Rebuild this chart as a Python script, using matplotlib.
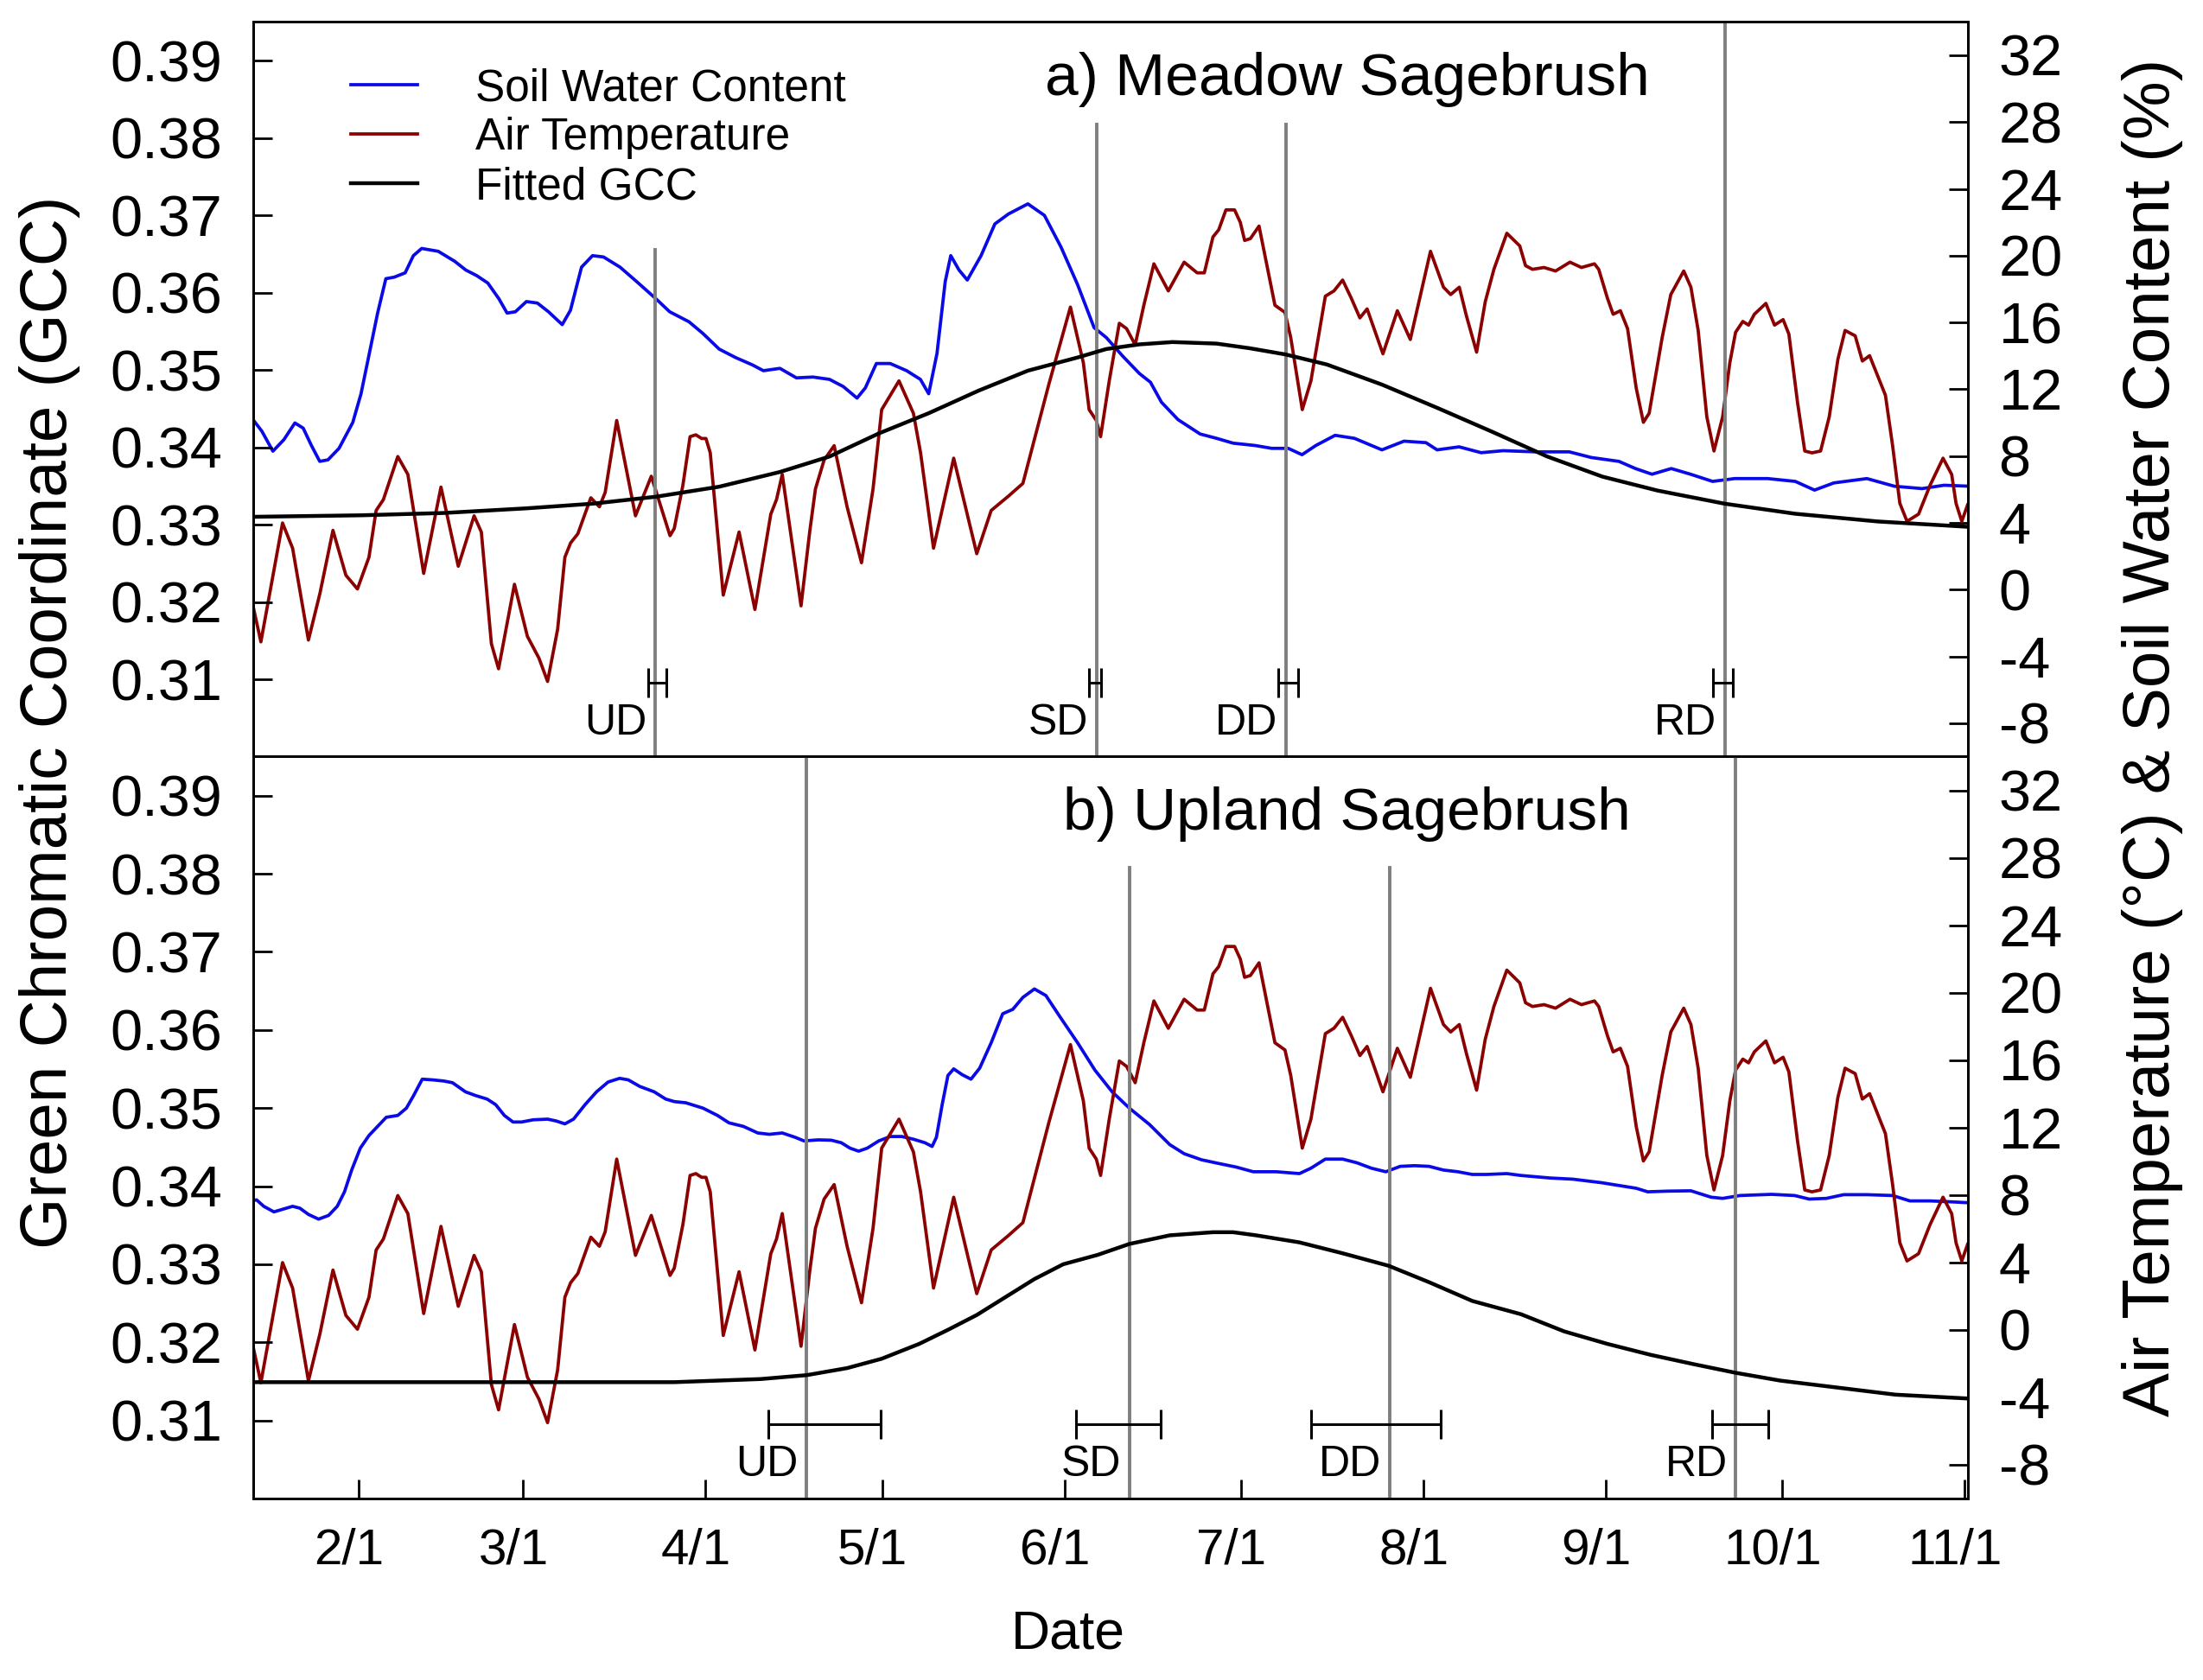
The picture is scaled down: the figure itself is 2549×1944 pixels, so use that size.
import matplotlib.pyplot as plt
from matplotlib.transforms import ScaledTranslation

plt.rcParams['font.family'] = ['Liberation Sans', 'DejaVu Sans']
plt.rcParams['axes.unicode_minus'] = False

# day of year (2015-like, no leap day) and smoothed air temperature (deg C), same for both sites
temp_doy = [13.95, 15.42, 19.10, 20.81, 23.50, 25.46, 27.67, 29.87, 31.83, 33.79, 35.01, 36.24,
            38.69, 40.40, 43.09, 46.03, 48.97, 51.66, 52.89, 54.60, 55.82, 58.52, 60.72, 62.68,
            64.15, 65.86, 67.09, 68.07, 69.29, 71.50, 72.96, 73.94, 75.90, 79.09, 81.78, 84.96,
            85.68, 87.15, 88.37, 89.35, 90.33, 91.07, 91.80, 94.01, 96.70, 99.39, 102.09, 103.06,
            104.04, 107.23, 108.70, 109.68, 111.15, 112.86, 115.06, 117.51, 119.47, 120.94, 123.88,
            126.33, 127.55, 129.75, 133.18, 137.10, 139.55, 142.49, 144.94, 149.34, 153.02, 155.22,
            156.20, 157.42, 158.15, 159.62, 161.33, 162.56, 164.03, 165.50, 167.21, 169.66, 172.35,
            174.56, 175.78, 177.25, 178.23, 179.45, 180.92, 181.90, 182.63, 183.61, 185.08, 186.55,
            187.78, 189.49, 190.47, 192.43, 193.90, 196.35, 197.82, 199.29, 200.75, 202.22, 203.45,
            206.14, 208.59, 210.79, 214.22, 216.43, 217.65, 219.12, 220.34, 222.06, 223.53, 225.00,
            227.20, 229.40, 230.38, 231.56, 233.52, 235.48, 237.93, 239.88, 242.09, 242.82, 244.29,
            245.27, 246.50, 247.72, 249.19, 250.41, 251.39, 253.60, 255.07, 257.27, 258.49, 259.72,
            261.19, 262.41, 263.88, 265.10, 266.08, 267.31, 268.29, 269.27, 271.23, 272.70, 274.16,
            275.14, 276.61, 277.84, 279.06, 280.53, 282.00, 283.47, 284.69, 286.41, 287.63, 288.86,
            290.32, 291.55, 292.77, 294.00, 295.22, 297.18, 299.14, 301.34, 302.81, 303.55, 304.53,
            305.51]
temp_c = [-0.76, -3.13, 3.99, 2.48, -3.02, -0.22, 3.55, 0.86, 0.04, 1.94, 4.74, 5.39,
          7.97, 6.90, 0.97, 6.14, 1.40, 4.42, 3.45, -3.24, -4.74, 0.32, -2.80, -4.10,
          -5.50, -2.37, 1.94, 2.80, 3.34, 5.50, 4.96, 5.82, 10.13, 4.42, 6.79, 3.23,
          3.66, 6.25, 9.16, 9.27, 9.05, 9.05, 8.19, -0.33, 3.45, -1.19, 4.52, 5.39,
          6.90, -0.97, 3.45, 6.03, 7.76, 8.62, 4.96, 1.61, 6.03, 10.78, 12.50,
          10.56, 8.19, 2.48, 7.87, 2.15, 4.74, 5.60, 6.36, 12.28, 16.92, 13.58,
          10.78, 10.13, 9.16, 12.50, 15.95, 15.63, 14.66, 17.03, 19.51, 17.89, 19.61,
          18.97, 18.97, 21.12, 21.55, 22.74, 22.74, 21.99, 20.91, 21.02, 21.77, 19.18,
          17.03, 16.60, 15.09, 10.78, 12.50, 17.57, 17.89, 18.54, 17.46, 16.27, 16.81,
          14.12, 16.70, 14.98, 20.26, 18.11, 17.67, 18.11, 16.38, 14.22, 17.24, 19.18,
          21.34, 20.58, 19.40, 19.18, 19.29, 19.08, 19.61, 19.29, 19.51, 19.18, 17.46,
          16.49, 16.70, 15.63, 12.07, 10.02, 10.56, 15.09, 17.67, 19.08, 18.11, 15.52,
          10.35, 8.30, 10.35, 13.58, 15.41, 16.06, 15.84, 16.49, 17.14, 15.84, 16.17,
          15.30, 11.21, 8.30, 8.19, 8.30, 10.35, 13.79, 15.52, 15.20, 13.69, 14.01,
          12.72, 11.64, 8.62, 5.17, 4.09, 4.52, 6.25, 7.87, 6.90, 5.17, 4.09,
          5.07]

# a) meadow sagebrush: soil water content (%)
swc_a_doy = [13.71, 15.58, 17.46, 19.33, 21.20, 22.61, 24.01, 25.42, 26.82, 28.70, 31.04, 32.44,
             33.85, 35.26, 36.66, 38.07, 39.94, 41.34, 42.75, 45.56, 48.37, 50.24, 52.12, 53.99,
             55.87, 57.27, 58.68, 60.55, 62.42, 64.30, 66.64, 68.04, 69.92, 71.79, 73.66, 76.47,
             79.28, 82.56, 84.90, 88.18, 90.52, 93.33, 96.15, 98.95, 100.83, 103.64, 106.45,
             109.26, 112.07, 114.41, 116.75, 118.16, 120.03, 122.38, 125.18, 127.52, 128.93,
             130.34, 131.74, 132.68, 134.08, 135.49, 137.83, 140.18, 142.51, 145.79, 148.60,
             151.41, 154.22, 157.04, 159.13, 161.94, 164.75, 166.62, 168.50, 171.31, 175.06,
             177.86, 180.68, 184.42, 187.23, 190.04, 192.39, 194.73, 198.01, 201.29, 205.97,
             209.72, 213.46, 215.34, 219.08, 222.83, 226.58, 232.20, 237.82, 241.57, 246.25,
             249.06, 251.87, 255.15, 258.43, 262.17, 265.92, 271.54, 276.23, 279.50, 282.78,
             288.40, 293.09, 297.77, 301.52, 306.02]
swc_a = [10.35, 9.49, 8.29, 8.98, 9.98, 9.67, 8.63, 7.68, 7.77, 8.46, 10.01, 11.73,
         14.14, 16.56, 18.62, 18.71, 18.97, 20.00, 20.43, 20.26, 19.66, 19.14, 18.80, 18.36,
         17.42, 16.56, 16.64, 17.25, 17.16, 16.64, 15.87, 16.73, 19.31, 20.00, 19.92, 19.31,
         18.45, 17.42, 16.64, 16.04, 15.35, 14.40, 13.89, 13.46, 13.11, 13.25, 12.68,
         12.73, 12.59, 12.16, 11.47, 12.08, 13.54, 13.54, 13.11, 12.59, 11.73,
         14.14, 18.45, 20.00, 19.14, 18.54, 20.00, 21.90, 22.50, 23.10, 22.41,
         20.52, 18.28, 15.69, 15.09, 13.97, 12.94, 12.42, 11.22, 10.18, 9.32,
         9.06, 8.77, 8.63, 8.46, 8.46, 8.08, 8.63, 9.24, 9.06, 8.37,
         8.89, 8.80, 8.37, 8.55, 8.20, 8.32, 8.25, 8.25, 7.91, 7.68,
         7.25, 6.91, 7.25, 6.91, 6.48, 6.65, 6.65, 6.48, 5.96, 6.39,
         6.65, 6.19, 6.05, 6.25, 6.19]

# b) upland sagebrush: soil water content (%)
swc_b_doy = [13.71, 14.69, 15.91, 17.63, 19.10, 20.81, 22.04, 23.50, 25.22, 26.93, 28.40, 29.63,
             30.85, 32.32, 33.79, 35.26, 36.73, 38.69, 40.15, 41.38, 42.85, 44.56, 46.52, 47.99,
             50.19, 51.91, 53.87, 55.33, 56.80, 58.27, 59.74, 61.70, 64.15, 65.62, 67.09, 68.56,
             70.52, 72.47, 74.43, 76.39, 77.86, 79.82, 82.27, 84.23, 85.70, 87.64, 90.58, 93.03,
             94.98, 97.43, 99.88, 101.84, 104.04, 106.25, 107.72, 110.17, 112.37, 114.08, 115.55,
             117.02, 118.49, 120.45, 122.41, 124.37, 126.33, 128.29, 129.51, 130.24, 131.22,
             132.20, 133.18, 134.65, 136.12, 137.59, 139.55, 141.51, 143.22, 144.94, 146.90,
             148.85, 151.30, 154.24, 157.18, 160.11, 163.05, 166.47, 169.90, 172.35, 175.29,
             178.23, 181.17, 184.10, 188.02, 191.94, 193.90, 196.35, 199.29, 201.73, 204.18,
             206.63, 209.08, 211.53, 213.98, 216.43, 218.88, 221.32, 223.77, 227.20, 229.60,
             234.50, 238.41, 243.31, 249.19, 251.15, 254.58, 258.49, 261.92, 263.88, 266.82,
             272.21, 276.12, 278.57, 281.51, 284.45, 288.37, 292.77, 295.71, 299.14, 303.06,
             305.75]
swc_b = [7.65, 7.71, 7.33, 7.00, 7.15, 7.33, 7.22, 6.85, 6.57, 6.79, 7.33, 8.19,
         9.48, 10.78, 11.53, 12.07, 12.61, 12.72, 13.15, 13.90, 14.87, 14.83, 14.76, 14.66,
         14.12, 13.90, 13.69, 13.36, 12.72, 12.33, 12.33, 12.46, 12.50, 12.39, 12.22, 12.50,
         13.36, 14.12, 14.70, 14.92, 14.83, 14.44, 14.12, 13.69, 13.54, 13.47, 13.15, 12.72,
         12.28, 12.07, 11.68, 11.60, 11.68, 11.42, 11.21, 11.27, 11.25, 11.10, 10.78,
         10.60, 10.78, 11.21, 11.47, 11.47, 11.31, 11.10, 10.88, 11.42, 13.36,
         15.09, 15.48, 15.13, 14.87, 15.52, 17.03, 18.75, 19.01, 19.72, 20.22,
         19.83, 18.54, 17.03, 15.41, 14.12, 13.15, 12.18, 10.99, 10.45, 10.09,
         9.87, 9.66, 9.38, 9.38, 9.27, 9.59, 10.13, 10.13, 9.91, 9.59,
         9.38, 9.70, 9.74, 9.70, 9.48, 9.38, 9.22, 9.22, 9.27, 9.16,
         9.01, 8.94, 8.73, 8.40, 8.19, 8.23, 8.25, 7.87, 7.80, 7.97,
         8.04, 7.97, 7.76, 7.80, 8.02, 8.02, 7.97, 7.65, 7.65, 7.59,
         7.54]

# fitted GCC curves
gcc_a_doy = [13.71, 32.45, 46.50, 60.55, 71.79, 82.56, 93.33, 103.64, 112.07, 120.50, 128.93,
             137.36, 145.79, 154.22, 159.13, 164.75, 170.37, 177.86, 183.49, 189.57, 196.60,
             205.97, 215.34, 224.71, 234.07, 243.44, 252.81, 264.23, 276.22, 290.28, 305.90]
gcc_a = [0.3310, 0.3312, 0.3315, 0.3321, 0.3327, 0.3336, 0.3349, 0.3368, 0.3388, 0.3418, 0.3444,
         0.3473, 0.3499, 0.3516, 0.3527, 0.3533, 0.3536, 0.3534, 0.3528, 0.3520, 0.3507,
         0.3481, 0.3451, 0.3420, 0.3388, 0.3362, 0.3344, 0.3327, 0.3314, 0.3304, 0.3297]
gcc_b_doy = [13.71, 50.00, 85.68, 100.37, 108.20, 115.06, 120.94, 127.31, 132.20, 137.10, 142.00,
             146.90, 151.80, 157.66, 163.05, 169.90, 177.25, 180.68, 184.60, 191.94, 199.29,
             207.12, 213.98, 221.32, 229.60, 236.95, 244.29, 251.64, 258.98, 266.08, 273.67,
             283.47, 293.26, 305.75]
gcc_b = [0.3149, 0.3149, 0.3149, 0.3153, 0.3158, 0.3167, 0.3179, 0.3198, 0.3216, 0.3235, 0.3258,
         0.3281, 0.3300, 0.3312, 0.3326, 0.3337, 0.3341, 0.3341, 0.3337, 0.3328, 0.3314,
         0.3298, 0.3277, 0.3253, 0.3236, 0.3214, 0.3198, 0.3184, 0.3172, 0.3161, 0.3151,
         0.3142, 0.3133, 0.3128]

# phenophase transition dates with their uncertainty range
phases = ['UD', 'SD', 'DD', 'RD']
phen_a = [82.5, 157.5, 189.6, 264.3]
phen_a_lo = [81.3, 156.2, 188.4, 262.2]
phen_a_hi = [84.3, 158.3, 191.7, 265.6]
phen_b = [108.2, 163.1, 207.3, 266.1]
phen_b_lo = [101.7, 153.9, 193.9, 262.1]
phen_b_hi = [120.8, 168.3, 215.9, 271.7]

month_doy = [32, 60, 91, 121, 152, 182, 213, 244, 274, 305]
month_labels = ['2/1', '3/1', '4/1', '5/1', '6/1', '7/1', '8/1', '9/1', '10/1', '11/1']
gcc_ticks = [0.31, 0.32, 0.33, 0.34, 0.35, 0.36, 0.37, 0.38, 0.39]
right_ticks = list(range(-8, 33, 4))

BLUE = '#0a0ae6'
RED = '#8b0000'
GREY = '#7f7f7f'


def draw_panel(ax, swc_doy, swc, gcc_doy, gcc, phen, lo, hi, tops, title, title_y):
    ax2 = ax.twinx()
    ax.set_zorder(ax2.get_zorder() + 1)
    ax.patch.set_visible(False)

    l1, = ax2.plot(swc_doy, swc, color=BLUE, lw=1.35)
    l2, = ax2.plot(temp_doy, temp_c, color=RED, lw=1.35)
    l3, = ax.plot(gcc_doy, gcc, color='black', lw=1.6, zorder=4)

    for name, d, a, b, top in zip(phases, phen, lo, hi, tops):
        ax.axvline(d, ymin=0, ymax=top, color=GREY, lw=1.4, zorder=1)
        ax.errorbar(d, 0.3095, xerr=[[d - a], [b - d]], fmt='none', ecolor='black',
                    elinewidth=1.1, capsize=6, capthick=1.1, zorder=5)
        ax.annotate(name, (d, 0.3043), xytext=(-3.5, 0), textcoords='offset points',
                    ha='right', va='center', fontsize=18)

    ax.set_xlim(14.1, 305.5)
    ax.set_ylim(0.30, 0.395)
    ax2.set_ylim(-10, 34)
    ax.set_yticks(gcc_ticks)
    ax.set_yticklabels(['%.2f' % v for v in gcc_ticks])
    ax2.set_yticks(right_ticks)
    ax.tick_params(axis='y', direction='in', length=8, width=1, labelsize=24, pad=13)
    ax2.tick_params(axis='y', direction='in', length=8, width=1, labelsize=24, pad=13)
    ax.text(0.638, title_y, title, transform=ax.transAxes, ha='center', va='center', fontsize=25)
    for sp in list(ax.spines.values()) + list(ax2.spines.values()):
        sp.set_linewidth(1.0)
    return l1, l2, l3


fig = plt.figure(figsize=(12.745, 9.72), dpi=200)
ax_a = fig.add_axes([0.1149, 0.54964, 0.7782, 0.43735])
ax_b = fig.add_axes([0.1149, 0.10802, 0.7782, 0.44162])

handles = draw_panel(ax_a, swc_a_doy, swc_a, gcc_a_doy, gcc_a, phen_a, phen_a_lo, phen_a_hi,
                     [0.69, 0.86, 0.86, 1.0], 'a) Meadow Sagebrush', 0.922)
draw_panel(ax_b, swc_b_doy, swc_b, gcc_b_doy, gcc_b, phen_b, phen_b_lo, phen_b_hi,
           [1.0, 0.85, 0.85, 1.0], 'b) Upland Sagebrush', 0.922)

ax_a.tick_params(axis='x', length=0, labelbottom=False)
ax_b.set_xticks(month_doy)
ax_b.set_xticklabels(month_labels)
ax_b.tick_params(axis='x', direction='in', length=8, width=1, labelsize=21, pad=12)
shift = ScaledTranslation(-4 / 72, 0, fig.dpi_scale_trans)
for lab in ax_b.get_xticklabels():
    lab.set_transform(lab.get_transform() + shift)

ax_a.legend(handles, ['Soil Water Content', 'Air Temperature', 'Fitted GCC'],
            loc='upper left', bbox_to_anchor=(0.057, 0.938), frameon=False, fontsize=18.5,
            handlelength=1.5, handletextpad=1.3, labelspacing=0.16, borderpad=0,
            borderaxespad=0)

fig.text(0.0224, 0.570, 'Green Chromatic Coordinate (GCC)', rotation=90,
         ha='center', va='center', fontsize=27.5)
fig.text(0.977, 0.561, 'Air Temperature (°C) & Soil Water Content (%)', rotation=90,
         ha='center', va='center', fontsize=27.5)
fig.text(0.485, 0.0273, 'Date', ha='center', va='center', fontsize=22.5)

fig.savefig('out.png', dpi=200)
